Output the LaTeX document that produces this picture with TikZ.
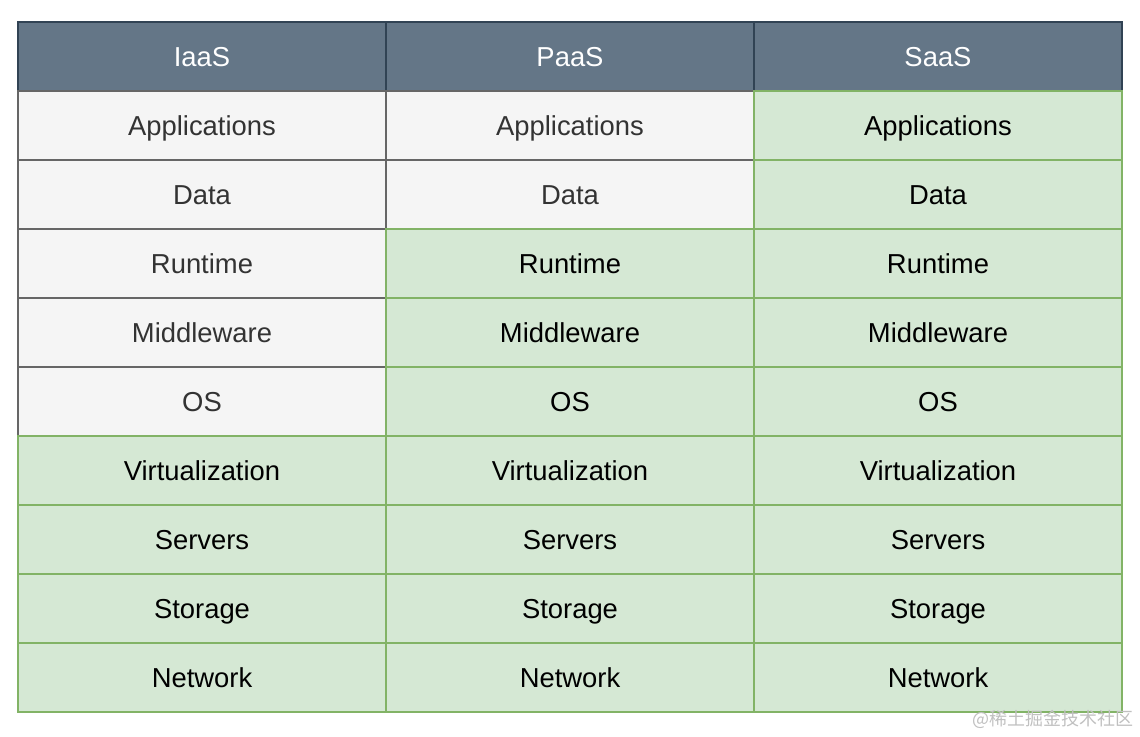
\documentclass[tikz,border=0pt]{standalone}
\usepackage{fontspec}
\setmainfont{Liberation Sans}
\newfontfamily\cjk{Noto Sans CJK SC}
\definecolor{hdrfill}{HTML}{647687}
\definecolor{hdrline}{HTML}{314354}
\definecolor{grayfill}{HTML}{F5F5F5}
\definecolor{grayline}{HTML}{666666}
\definecolor{graytext}{HTML}{333333}
\definecolor{greenfill}{HTML}{D5E8D4}
\definecolor{greenline}{HTML}{82B366}
\definecolor{wmark}{HTML}{C0C0C0}
\tikzset{
  cell/.style={rectangle, minimum width=368pt, minimum height=69pt, inner sep=0pt, line width=1.6pt,
    font=\fontsize{27.4}{32}\selectfont, text height=23.5pt, text depth=4.1pt, anchor=center},
  hdr/.style={cell, fill=hdrfill, draw=hdrline, text=white},
  grey/.style={cell, fill=grayfill, draw=grayline, text=graytext},
  green/.style={cell, fill=greenfill, draw=greenline, text=black},
}
\begin{document}
\begin{tikzpicture}[x=1pt,y=-1pt]
\useasboundingbox (0,0) rectangle (1140,736);
% headers
\node[hdr] (h1) at (202,56.5) {IaaS};
\node[hdr] (h2) at (570,56.5) {PaaS};
\node[hdr] (h3) at (938,56.5) {SaaS};
% gray cells
\node[grey] (i1) at (202,125.5) {Applications};
\node[grey] (i2) at (202,194.5) {Data};
\node[grey] (i3) at (202,263.5) {Runtime};
\node[grey] (i4) at (202,332.5) {Middleware};
\node[grey] (i5) at (202,401.5) {OS};
\node[grey] (p1) at (570,125.5) {Applications};
\node[grey] (p2) at (570,194.5) {Data};
% green cells
\node[green] (i6) at (202,470.5) {Virtualization};
\node[green] (i7) at (202,539.5) {Servers};
\node[green] (i8) at (202,608.5) {Storage};
\node[green] (i9) at (202,677.5) {Network};
\node[green] (p3) at (570,263.5) {Runtime};
\node[green] (p4) at (570,332.5) {Middleware};
\node[green] (p5) at (570,401.5) {OS};
\node[green] (p6) at (570,470.5) {Virtualization};
\node[green] (p7) at (570,539.5) {Servers};
\node[green] (p8) at (570,608.5) {Storage};
\node[green] (p9) at (570,677.5) {Network};
\node[green] (s1) at (938,125.5) {Applications};
\node[green] (s2) at (938,194.5) {Data};
\node[green] (s3) at (938,263.5) {Runtime};
\node[green] (s4) at (938,332.5) {Middleware};
\node[green] (s5) at (938,401.5) {OS};
\node[green] (s6) at (938,470.5) {Virtualization};
\node[green] (s7) at (938,539.5) {Servers};
\node[green] (s8) at (938,608.5) {Storage};
\node[green] (s9) at (938,677.5) {Network};
% watermark
\node[text=wmark, font=\cjk\fontsize{18}{20}\selectfont, anchor=east, inner sep=0pt] (wm) at (1134,719) {@稀土掘金技术社区};
\end{tikzpicture}
\end{document}
